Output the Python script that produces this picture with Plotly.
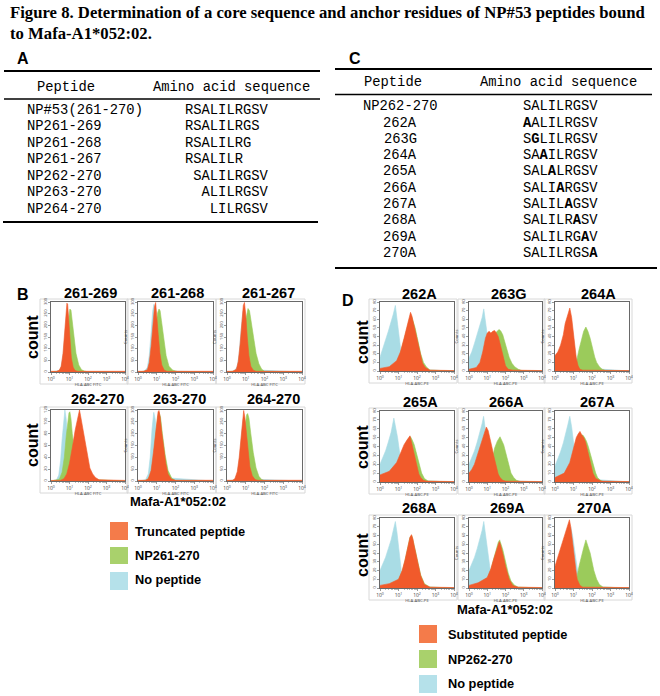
import math
import plotly.graph_objects as go

W, H = 660, 696

# ---------------- data ----------------
TITLE_LINES = [
    "Figure 8. Determination of a core sequence and anchor residues of NP#53 peptides bound",
    "to Mafa-A1*052:02.",
]

A_HEADERS = ["Peptide", "Amino acid sequence"]
A_PEPTIDES = ["NP#53(261-270)", "NP261-269", "NP261-268", "NP261-267",
              "NP262-270", "NP263-270", "NP264-270"]
A_SEQUENCES = ["RSALILRGSV", "RSALILRGS", "RSALILRG", "RSALILR",
               "SALILRGSV", "ALILRGSV", "LILRGSV"]
A_START = [261, 261, 261, 261, 262, 263, 264]

C_HEADERS = ["Peptide", "Amino acid sequence"]
C_PEPTIDES = ["NP262-270", "262A", "263G", "264A", "265A",
              "266A", "267A", "268A", "269A", "270A"]
C_SEQUENCES = ["SALILRGSV", "AALILRGSV", "SGLILRGSV", "SAAILRGSV", "SALALRGSV",
               "SALIARGSV", "SALILAGSV", "SALILRASV", "SALILRGAV", "SALILRGSA"]
C_SUB_INDEX = [None, 0, 1, 2, 3, 4, 5, 6, 7, 8]

XTICK_TEXT = ["10<sup>0</sup>", "10<sup>1</sup>", "10<sup>2</sup>", "10<sup>3</sup>", "10<sup>4</sup>"]

# Panel B (x in log10 fluorescence units)
B_TITLES = ["261-269", "261-268", "261-267", "262-270", "263-270", "264-270"]
B_YMAX = [300, 300, 300, 120, 300, 300]
B_YSTEP = [50, 50, 50, 20, 50, 50]
B_LEGEND = ["Truncated peptide", "NP261-270", "No peptide"]

B_NONE_X = [
    [0, 0.3, 0.45, 0.55, 0.65, 0.72, 0.8, 0.86, 0.9, 0.95, 1.02, 1.1, 1.2, 1.3, 1.45, 4],
    [0, 0.35, 0.5, 0.6, 0.7, 0.78, 0.85, 0.92, 1.0, 1.1, 1.25, 4],
    [0, 0.4, 0.55, 0.65, 0.75, 0.85, 0.92, 1.0, 1.1, 1.25, 4],
    [0, 0.3, 0.42, 0.52, 0.6, 0.68, 0.75, 0.82, 0.9, 1.0, 1.1, 1.25, 4],
    [0, 0.4, 0.55, 0.65, 0.75, 0.84, 0.92, 1.0, 1.1, 1.25, 4],
    [0, 0.4, 0.55, 0.68, 0.78, 0.86, 0.94, 1.02, 1.12, 1.3, 4],
]
B_NONE_Y = [
    [0, 2, 6, 20, 70, 130, 210, 260, 255, 200, 120, 50, 15, 4, 0, 0],
    [0, 4, 20, 70, 170, 260, 290, 240, 130, 40, 5, 0],
    [0, 5, 25, 80, 180, 260, 270, 190, 70, 10, 0],
    [0, 2, 10, 35, 70, 105, 120, 105, 70, 30, 10, 2, 0],
    [0, 5, 30, 100, 220, 290, 260, 170, 80, 15, 0],
    [0, 5, 30, 100, 200, 260, 240, 150, 60, 8, 0],
]
B_FULL_X = [
    [0, 0.4, 0.55, 0.7, 0.85, 0.95, 1.02, 1.08, 1.15, 1.25, 1.35, 1.5, 1.65, 1.8, 2.0, 4],
    [0, 0.5, 0.65, 0.8, 0.95, 1.05, 1.12, 1.18, 1.25, 1.35, 1.5, 1.65, 1.85, 2.1, 4],
    [0, 0.5, 0.65, 0.8, 0.95, 1.05, 1.12, 1.2, 1.3, 1.42, 1.55, 1.7, 1.85, 2.0, 4],
    [0, 0.45, 0.6, 0.72, 0.82, 0.9, 0.97, 1.02, 1.08, 1.15, 1.25, 1.4, 1.6, 1.8, 4],
    [0, 0.5, 0.7, 0.85, 0.95, 1.05, 1.12, 1.2, 1.3, 1.45, 1.6, 1.8, 2.0, 4],
    [0, 0.45, 0.6, 0.75, 0.88, 0.98, 1.05, 1.1, 1.17, 1.27, 1.4, 1.55, 1.7, 1.85, 2.0, 4],
]
B_FULL_Y = [
    [0, 3, 15, 60, 160, 240, 270, 265, 220, 140, 80, 30, 10, 4, 1, 0],
    [0, 5, 25, 90, 200, 255, 270, 262, 220, 150, 70, 25, 8, 2, 0],
    [0, 5, 25, 90, 200, 255, 272, 262, 210, 140, 80, 35, 12, 3, 0],
    [0, 3, 15, 40, 75, 100, 115, 117, 105, 80, 55, 30, 10, 3, 0],
    [0, 4, 30, 110, 200, 270, 290, 270, 200, 110, 45, 12, 2, 0],
    [0, 4, 25, 90, 190, 255, 280, 285, 265, 200, 120, 55, 20, 6, 1, 0],
]
B_TRUNC_X = [
    [0, 0.3, 0.45, 0.55, 0.65, 0.72, 0.8, 0.86, 0.9, 0.95, 1.02, 1.1, 1.2, 1.3, 1.45, 4],
    [0, 0.3, 0.5, 0.6, 0.7, 0.8, 0.88, 0.94, 1.0, 1.08, 1.17, 1.27, 1.4, 1.55, 4],
    [0, 0.3, 0.5, 0.6, 0.7, 0.8, 0.87, 0.93, 1.0, 1.08, 1.17, 1.27, 1.4, 1.55, 4],
    [0, 0.5, 0.7, 0.85, 1.0, 1.1, 1.2, 1.3, 1.4, 1.48, 1.54, 1.6, 1.7, 1.8, 1.9, 2.0, 2.1, 2.25, 2.4, 2.6, 4],
    [0, 0.4, 0.55, 0.7, 0.82, 0.92, 1.0, 1.07, 1.12, 1.18, 1.26, 1.36, 1.48, 1.6, 1.78, 2.0, 4],
    [0, 0.3, 0.42, 0.55, 0.65, 0.75, 0.83, 0.89, 0.95, 1.03, 1.12, 1.22, 1.35, 1.5, 1.65, 4],
]
B_TRUNC_Y = [
    [3, 3, 8, 25, 80, 150, 240, 295, 290, 230, 140, 60, 20, 6, 3, 3],
    [3, 3, 10, 40, 110, 210, 280, 298, 250, 160, 80, 30, 8, 3, 3],
    [3, 3, 12, 45, 120, 220, 285, 298, 245, 150, 70, 25, 8, 3, 3],
    [1, 1, 4, 12, 30, 45, 65, 85, 102, 115, 120, 110, 92, 72, 52, 35, 22, 12, 6, 2, 1],
    [3, 3, 10, 45, 120, 200, 260, 292, 298, 270, 210, 140, 75, 30, 8, 3, 3],
    [3, 3, 10, 40, 100, 190, 270, 298, 270, 200, 120, 60, 22, 6, 3, 3],
]

# Panel D
D_TITLES = ["262A", "263G", "264A", "265A", "266A", "267A", "268A", "269A", "270A"]
D_YMAX = 80
D_YSTEP = 10
D_LEGEND = ["Substituted peptide", "NP262-270", "No peptide"]

D_NONE_X = [
    [0, 0.15, 0.3, 0.45, 0.6, 0.72, 0.83, 0.92, 1.0, 1.08, 1.15, 1.25, 1.4, 1.6, 4],
    [0, 0.15, 0.3, 0.45, 0.6, 0.72, 0.81, 0.9, 1.0, 1.1, 1.2, 1.35, 1.5, 4],
    [0, 0.15, 0.3, 0.45, 0.6, 0.72, 0.82, 0.92, 1.0, 1.1, 1.25, 4],
    [0, 0.15, 0.3, 0.45, 0.6, 0.75, 0.85, 0.95, 1.05, 1.15, 1.3, 1.5, 4],
    [0, 0.15, 0.3, 0.45, 0.6, 0.72, 0.8, 0.9, 1.0, 1.08, 1.15, 1.3, 1.45, 4],
    [0, 0.15, 0.3, 0.45, 0.6, 0.7, 0.8, 0.9, 1.0, 1.1, 1.25, 1.4, 4],
    [0, 0.15, 0.3, 0.45, 0.6, 0.72, 0.83, 0.92, 1.0, 1.08, 1.15, 1.3, 1.45, 4],
    [0, 0.15, 0.3, 0.45, 0.6, 0.72, 0.81, 0.9, 1.0, 1.1, 1.2, 1.35, 1.5, 4],
    [0, 0.2, 0.4, 0.6, 0.75, 0.85, 0.95, 1.05, 1.12, 1.2, 1.3, 1.45, 4],
]
D_NONE_Y = [
    [16, 25, 36, 46, 56, 66, 76, 62, 46, 32, 20, 11, 5, 2, 0],
    [15, 22, 32, 42, 52, 62, 72, 60, 42, 25, 12, 4, 1, 0],
    [15, 20, 27, 38, 50, 60, 65, 52, 38, 20, 4, 0],
    [20, 27, 35, 45, 56, 72, 62, 50, 35, 22, 8, 2, 0],
    [20, 27, 35, 45, 56, 66, 74, 60, 45, 30, 20, 6, 2, 0],
    [18, 25, 34, 44, 55, 65, 74, 62, 45, 30, 12, 4, 0],
    [20, 27, 35, 45, 55, 66, 76, 63, 50, 33, 20, 6, 2, 0],
    [20, 27, 35, 45, 56, 66, 76, 62, 45, 28, 15, 5, 1, 0],
    [15, 25, 38, 52, 64, 70, 60, 45, 30, 18, 8, 2, 0],
]
D_FULL_X = [
    [0, 0.5, 0.9, 1.1, 1.3, 1.45, 1.6, 1.7, 1.8, 1.9, 2.0, 2.1, 2.2, 2.35, 2.5, 2.7, 4],
    [0, 0.6, 0.9, 1.1, 1.3, 1.45, 1.58, 1.66, 1.75, 1.85, 2.0, 2.1, 2.2, 2.35, 2.5, 2.7, 2.9, 4],
    [0, 0.9, 1.05, 1.15, 1.3, 1.42, 1.55, 1.67, 1.78, 1.9, 2.05, 2.15, 2.25, 2.4, 2.55, 2.75, 4],
    [0, 0.5, 0.9, 1.1, 1.3, 1.45, 1.55, 1.65, 1.75, 1.85, 1.95, 2.05, 2.15, 2.25, 2.4, 2.6, 4],
    [0, 0.9, 1.05, 1.2, 1.3, 1.4, 1.55, 1.7, 1.8, 1.9, 2.0, 2.1, 2.2, 2.3, 2.45, 2.6, 2.8, 4],
    [0, 0.8, 1.0, 1.2, 1.35, 1.5, 1.6, 1.7, 1.8, 1.9, 2.0, 2.1, 2.2, 2.3, 2.45, 2.6, 4],
    [0, 0.5, 1.0, 1.2, 1.35, 1.5, 1.62, 1.72, 1.82, 1.92, 2.05, 2.2, 2.4, 2.7, 4],
    [0, 0.5, 1.0, 1.2, 1.35, 1.5, 1.6, 1.68, 1.75, 1.85, 1.95, 2.05, 2.15, 2.3, 2.5, 2.7, 4],
    [0, 0.9, 1.05, 1.2, 1.3, 1.42, 1.55, 1.67, 1.78, 1.9, 2.0, 2.1, 2.25, 2.4, 2.6, 4],
]
D_FULL_Y = [
    [0, 3, 10, 20, 36, 48, 60, 64, 58, 50, 40, 30, 20, 10, 5, 1, 0],
    [0, 3, 15, 30, 40, 44, 47, 48, 46, 42, 32, 24, 16, 9, 5, 2, 0.5, 0],
    [0, 2, 6, 10, 25, 36, 46, 51, 46, 38, 24, 16, 10, 5, 2, 0.5, 0],
    [0, 8, 18, 28, 40, 46, 49, 51, 47, 42, 34, 25, 16, 10, 4, 1, 0],
    [0, 3, 10, 20, 28, 38, 46, 51, 47, 42, 34, 25, 18, 10, 5, 2, 0.5, 0],
    [0, 8, 25, 45, 52, 53, 50, 46, 40, 32, 24, 16, 10, 5, 2, 0.5, 0],
    [0, 4, 9, 19, 31, 47, 58, 60, 52, 42, 29, 15, 5, 1, 0],
    [0, 5, 11, 21, 33, 45, 52, 55, 51, 44, 35, 26, 17, 8, 3, 1, 0],
    [0, 2, 6, 14, 25, 36, 46, 55, 48, 40, 30, 20, 10, 4, 1, 0],
]
D_SUB_X = [
    [0, 0.5, 0.9, 1.1, 1.3, 1.45, 1.55, 1.65, 1.72, 1.8, 1.9, 2.0, 2.1, 2.2, 2.3, 2.45, 2.7, 4],
    [0, 0.4, 0.6, 0.75, 0.9, 1.0, 1.1, 1.2, 1.3, 1.4, 1.5, 1.6, 1.7, 1.8, 1.9, 2.0, 2.15, 2.4, 4],
    [0, 0.15, 0.3, 0.45, 0.55, 0.68, 0.8, 0.9, 1.0, 1.08, 1.15, 1.25, 1.35, 1.5, 4],
    [0, 0.5, 0.9, 1.1, 1.3, 1.45, 1.55, 1.62, 1.7, 1.8, 1.9, 2.0, 2.1, 2.2, 2.35, 2.5, 4],
    [0, 0.15, 0.3, 0.45, 0.6, 0.72, 0.82, 0.95, 1.05, 1.15, 1.25, 1.35, 1.5, 1.6, 1.7, 1.85, 2.0, 4],
    [0, 0.5, 0.8, 0.95, 1.05, 1.15, 1.25, 1.35, 1.45, 1.55, 1.65, 1.75, 1.85, 1.95, 2.05, 2.2, 2.5, 4],
    [0, 0.5, 1.0, 1.2, 1.35, 1.45, 1.55, 1.62, 1.7, 1.78, 1.85, 1.95, 2.05, 2.2, 2.4, 2.7, 4],
    [0, 0.5, 1.0, 1.2, 1.35, 1.5, 1.6, 1.66, 1.72, 1.8, 1.9, 2.0, 2.1, 2.2, 2.4, 2.7, 4],
    [0, 0.1, 0.2, 0.35, 0.5, 0.62, 0.72, 0.78, 0.85, 0.95, 1.05, 1.12, 1.2, 1.35, 1.5, 4],
]
D_SUB_Y = [
    [3, 5, 12, 22, 38, 50, 60, 68, 64, 56, 46, 35, 25, 15, 9, 4, 1, 0.5],
    [2, 4, 10, 22, 38, 44, 46, 44, 46, 47, 44, 40, 32, 22, 12, 6, 2, 1, 0.5],
    [18, 22, 30, 42, 55, 66, 73, 62, 45, 28, 15, 6, 2, 1, 0.5],
    [8, 12, 22, 32, 42, 47, 50, 52, 45, 36, 26, 15, 9, 5, 2, 1, 0.5],
    [10, 14, 20, 30, 40, 48, 56, 62, 58, 50, 40, 30, 15, 9, 5, 2, 1, 0.5],
    [5, 10, 22, 34, 42, 50, 54, 57, 53, 50, 45, 37, 28, 18, 10, 4, 1, 0.5],
    [3, 5, 10, 20, 32, 42, 52, 58, 61, 56, 48, 38, 28, 14, 4, 1, 0.5],
    [3, 6, 12, 22, 33, 44, 50, 53, 50, 44, 35, 25, 16, 10, 3, 1, 0.5],
    [25, 32, 40, 50, 60, 68, 76, 78, 70, 55, 35, 22, 10, 3, 1, 0.5],
]

# ---------------- style ----------------
ORANGE, GREEN, CYAN = "#F15A2B", "#9BCB5B", "#A9DCE5"
ORANGE_L, GREEN_L, CYAN_L = "#F47B4A", "#A9D16C", "#B5E1EA"
MONO = "Liberation Mono, Courier New, monospace"
SANS = "Liberation Sans, Arial, sans-serif"
SERIF = "Liberation Serif, Times New Roman, serif"

B_COLS = [(51, 125), (138, 213), (227, 302)]
B_ROWS = [(302, 372), (410, 481)]
D_COLS = [(380, 454), (469, 542), (555, 629)]
D_ROWS = [(302, 371), (411, 482), (518, 588)]


def px(x):
    return x / W


def py(y):
    return 1 - y / H


fig = go.Figure()
annotations = []
shapes = []
layout_axes = {}


def text(x, y, s, size, family=SANS, xanchor="left", angle=0, color="black"):
    annotations.append(dict(x=px(x), y=py(y), xref="paper", yref="paper", text=s,
                            showarrow=False, xanchor=xanchor, yanchor="middle",
                            textangle=angle, font=dict(size=size, family=family, color=color)))


def hline(x0, x1, y, width):
    shapes.append(dict(type="line", xref="paper", yref="paper", x0=px(x0), x1=px(x1),
                       y0=py(y), y1=py(y), line=dict(color="black", width=width)))


def rect(x0, y0, x1, y1, fill=None, line=None):
    shapes.append(dict(type="rect", xref="paper", yref="paper", x0=px(x0), x1=px(x1),
                       y0=py(y1), y1=py(y0), fillcolor=fill if fill else "rgba(0,0,0,0)",
                       line=dict(color=line if line else "rgba(0,0,0,0)", width=1), layer="below"))


# ---------------- title ----------------
text(8, 13, "<b>" + TITLE_LINES[0] + "</b>", 16.7, SERIF)
text(8, 33, "<b>" + TITLE_LINES[1] + "</b>", 16.7, SERIF)

# ---------------- table A ----------------
text(15, 59, "<b>A</b>", 16)
hline(4, 320, 71, 2)
text(35, 87, A_HEADERS[0], 13.8, MONO)
text(151, 87, A_HEADERS[1], 13.8, MONO)
hline(4, 320, 99, 1.5)
for i, (pep, seq, st) in enumerate(zip(A_PEPTIDES, A_SEQUENCES, A_START)):
    y = 110 + i * 16.5
    text(25, y, pep, 13.8, MONO)
    text(183, y, "\u00a0" * (st - A_START[0]) + seq, 13.8, MONO)
hline(3, 318, 222, 2)

# ---------------- table C ----------------
text(347, 58, "<b>C</b>", 16)
hline(335, 652, 69, 2)
text(362, 82, C_HEADERS[0], 13.8, MONO)
text(478, 82, C_HEADERS[1], 13.8, MONO)
hline(335, 652, 94.5, 1.5)
for i, (pep, seq, sub) in enumerate(zip(C_PEPTIDES, C_SEQUENCES, C_SUB_INDEX)):
    y = 106.7 + i * 16.3
    text(400, y, pep, 13.8, MONO, xanchor="center")
    if sub is None:
        s = seq
    else:
        s = seq[:sub] + "<b>" + seq[sub] + "</b>" + seq[sub + 1:]
    text(520.5, y, s, 13.8, MONO)
hline(335, 657, 268, 2)

# ---------------- histograms ----------------
MINOR = [k + math.log10(m) for k in range(4) for m in range(2, 10)]
axis_count = [0]


def add_hist(xr, yr, ymax, ystep, curves, xtitle, show_counts):
    axis_count[0] += 1
    n = axis_count[0]
    sfx = "" if n == 1 else str(n)
    # outer gray frame
    rect(xr[0] - 11, yr[0] - 3, xr[1] + 3, yr[1] + 12, line="#d8d8d8")
    for cx, cy, col in curves:
        fig.add_trace(go.Scatter(x=cx, y=cy, mode="lines", fill="tozeroy",
                                 fillcolor=col, line=dict(color=col, width=0.6),
                                 xaxis="x" + sfx, yaxis="y" + sfx,
                                 showlegend=False, hoverinfo="skip"))
    layout_axes["xaxis" + sfx] = dict(
        domain=[px(xr[0]), px(xr[1])], anchor="y" + sfx, range=[0, 4],
        tickvals=[0, 1, 2, 3, 4], ticktext=XTICK_TEXT, tickfont=dict(size=5, color="#444"),
        ticks="outside", ticklen=2, tickwidth=0.6, tickcolor="#555",
        minor=dict(tickvals=MINOR, ticks="outside", ticklen=1.2, tickwidth=0.5, tickcolor="#777"),
        showline=True, linecolor="#444", linewidth=0.8, mirror=True,
        showgrid=False, zeroline=False, automargin=False, fixedrange=True,
        title=dict(text=xtitle, font=dict(size=4.2, color="#444"), standoff=0))
    layout_axes["yaxis" + sfx] = dict(
        domain=[py(yr[1]), py(yr[0])], anchor="x" + sfx, range=[0, ymax],
        tickvals=list(range(0, ymax + 1, ystep)), tickfont=dict(size=4.2, color="#444"),
        tickangle=-90, ticks="outside", ticklen=2, tickwidth=0.6, tickcolor="#555",
        showline=True, linecolor="#444", linewidth=0.8, mirror=True,
        showgrid=False, zeroline=False, automargin=False, fixedrange=True,
        title=dict(text="Counts" if show_counts else "", font=dict(size=4.2, color="#444"), standoff=1))


B_TITLE_POS = [(90, 293), (177, 293), (268, 293), (97, 399), (179, 399), (273, 399)]
for k in range(6):
    r, c = divmod(k, 3)
    curves = [(B_NONE_X[k], B_NONE_Y[k], CYAN), (B_FULL_X[k], B_FULL_Y[k], GREEN),
              (B_TRUNC_X[k], B_TRUNC_Y[k], ORANGE)]
    add_hist(B_COLS[c], B_ROWS[r], B_YMAX[k], B_YSTEP[k], curves, "HLA-ABC FITC", c > 0)
    text(B_TITLE_POS[k][0], B_TITLE_POS[k][1], "<b>" + B_TITLES[k] + "</b>", 14.5, xanchor="center")

D_TITLE_POS = [(419, 294), (508, 294), (598, 294), (420, 402), (506, 402), (597, 402),
               (419, 508), (507, 508), (594, 508)]
for k in range(9):
    r, c = divmod(k, 3)
    curves = [(D_NONE_X[k], D_NONE_Y[k], CYAN), (D_FULL_X[k], D_FULL_Y[k], GREEN),
              (D_SUB_X[k], D_SUB_Y[k], ORANGE)]
    add_hist(D_COLS[c], D_ROWS[r], D_YMAX, D_YSTEP, curves, "HLA-ABC-PE", c > 0)
    text(D_TITLE_POS[k][0], D_TITLE_POS[k][1], "<b>" + D_TITLES[k] + "</b>", 14.5, xanchor="center")

# panel letters and labels
text(15, 294, "<b>B</b>", 16)
text(340, 300, "<b>D</b>", 16)
for yc in (337, 445):
    text(32, yc, "<b>count</b>", 16, angle=-90, xanchor="center")
for yc in (342, 447, 555):
    text(362, yc, "<b>count</b>", 16, angle=-90, xanchor="center")
text(177.5, 501, "<b>Mafa-A1*052:02</b>", 13, xanchor="center")
text(505, 609, "<b>Mafa-A1*052:02</b>", 13, xanchor="center")

# legends
for (y0, y1, ty), col, lab in zip([(522, 540, 531.5), (547, 564, 555.5), (572, 590, 579)],
                                  [ORANGE_L, GREEN_L, CYAN_L], B_LEGEND):
    rect(110, y0, 128, y1, fill=col)
    text(133, ty, "<b>" + lab + "</b>", 12.8)
for (y0, y1, ty), col, lab in zip([(625, 643, 634), (650, 668, 659), (675, 693, 683)],
                                  [ORANGE_L, GREEN_L, CYAN_L], D_LEGEND):
    rect(419, y0, 437, y1, fill=col)
    text(446, ty, "<b>" + lab + "</b>", 12.8)

fig.update_layout(
    width=W, height=H, margin=dict(l=0, r=0, t=0, b=0),
    template="none", paper_bgcolor="white", plot_bgcolor="white",
    showlegend=False, annotations=annotations, shapes=shapes, **layout_axes)

fig.write_html("out.html", config={"displayModeBar": False, "staticPlot": True},
               post_script="document.body.style.margin='0';document.body.style.padding='0';")
